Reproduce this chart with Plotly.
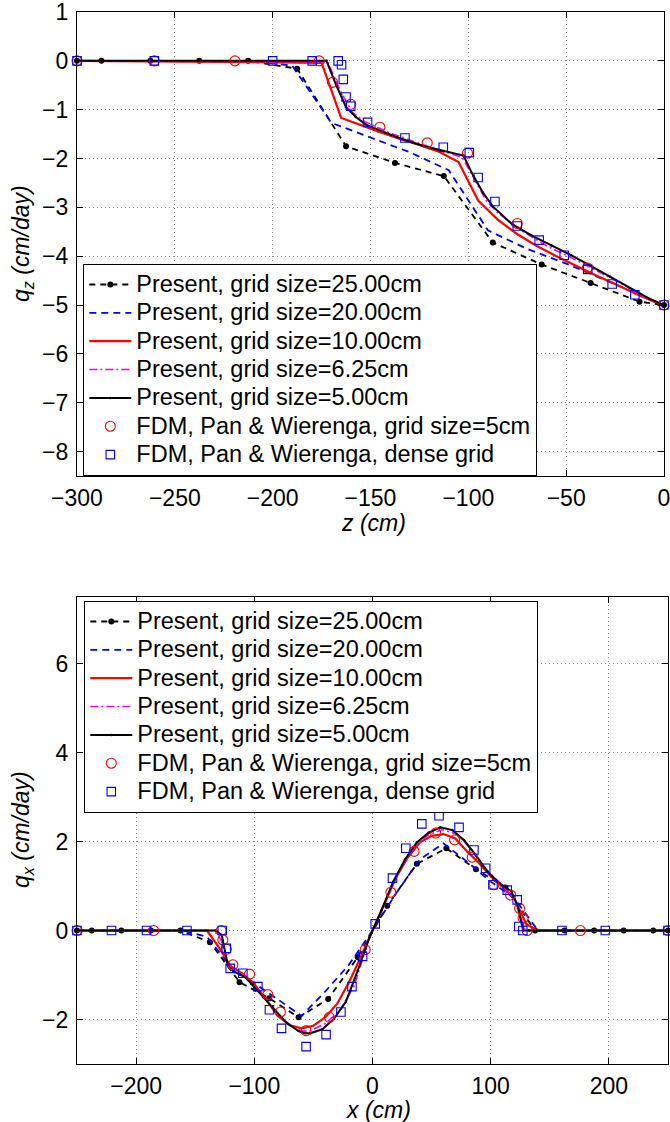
import plotly.graph_objects as go

# ---------------- TOP PANEL: q_z versus z ----------------
z_25 = [-300, -287.5, -262.5, -237.5, -212.5, -187.5, -162.5, -137.5, -112.5, -87.5, -62.5, -37.5, -12.5, 0]
qz_25 = [0, 0, 0, 0, 0, -0.16, -1.75, -2.09, -2.36, -3.72, -4.17, -4.55, -4.93, -5.0]

z_20 = [-300, -290, -270, -250, -230, -210, -190, -170, -150, -130, -110, -90, -70, -50, -30, -10, 0]
qz_20 = [0, 0, 0, 0, 0, 0, -0.1, -1.27, -1.57, -1.87, -2.24, -3.47, -3.85, -4.15, -4.49, -4.82, -5.0]

z_10 = [-300, -175, -165, -155, -145, -135, -125, -115, -105, -95, -85, -75, -65, -55, -45, -35, -25, -15, -5, 0]
qz_10 = [0, -0.04, -1.17, -1.32, -1.46, -1.6, -1.72, -1.86, -2.07, -2.86, -3.25, -3.55, -3.79, -4.0, -4.2, -4.39, -4.57, -4.76, -4.93, -5.0]

z_625 = [-300, -171.9, -165.6, -159.4, -153.1, -140.6, -128.1, -115.6, -103.1, -96.9, -90.6, -84.4, -71.9, -59.4, -46.9, -34.4, -21.9, -9.4, 0]
qz_625 = [0, -0.02, -0.6, -1.05, -1.24, -1.47, -1.65, -1.82, -1.98, -2.42, -2.88, -3.13, -3.5, -3.8, -4.04, -4.3, -4.56, -4.84, -5.0]

z_5 = [-300, -172.5, -167.5, -162.5, -157.5, -152.5, -142.5, -132.5, -122.5, -112.5, -102.5, -97.5, -92.5, -87.5,
       -77.5, -67.5, -57.5, -47.5, -37.5, -27.5, -17.5, -7.5, 0]
qz_5 = [0, 0, -0.5, -0.95, -1.15, -1.3, -1.47, -1.62, -1.75, -1.85, -1.94, -2.35, -2.7, -2.98,
        -3.35, -3.58, -3.78, -3.98, -4.2, -4.42, -4.65, -4.87, -5.0]

z_fdm5 = [-300, -260.5, -219.3, -176.2, -169.4, -160.1, -145.2, -121, -100.4, -75, -39.1, 0]
qz_fdm5 = [0, 0, 0, 0, -0.44, -0.89, -1.36, -1.68, -1.89, -3.33, -4.24, -5.0]

z_dense = [-300, -260.5, -200, -179.8, -166.5, -164.8, -163.9, -162.5, -160.1, -151.5, -132.4, -112.8, -99.5, -95,
           -86.4, -75, -63.8, -51, -39, -26.5, -14.9, 0]
qz_dense = [0, 0, 0, 0, 0, -0.08, -0.38, -0.74, -0.93, -1.26, -1.58, -1.77, -1.88, -2.39,
            -2.88, -3.38, -3.67, -3.98, -4.27, -4.57, -4.79, -5.0]

# ---------------- BOTTOM PANEL: q_x versus x ----------------
x_25 = [-250, -237.5, -212.5, -187.5, -162.5, -137.5, -112.5, -87.5, -62.5, -37.5, -12.5, 12.5, 37.5, 62.5, 87.5,
        112.5, 137.5, 162.5, 187.5, 212.5, 237.5, 250]
qx_25 = [0, 0, 0, 0, 0, -0.26, -1.16, -1.52, -1.95, -1.54, -0.6, 0.56, 1.5, 1.85, 1.38,
         0.97, 0, 0, 0, 0, 0, 0]

x_20 = [-250, -240, -220, -200, -180, -160, -140, -120, -100, -80, -60, -40, -20, 0, 20, 40, 60, 80, 100, 120,
        140, 160, 180, 200, 220, 240, 250]
qx_20 = [0, 0, 0, 0, 0, 0, -0.14, -0.81, -1.18, -1.56, -1.92, -1.37, -0.77, 0, 0.84, 1.6, 1.96, 1.55, 1.1, 0.73,
         0, 0, 0, 0, 0, 0, 0]

x_10 = [-250, -140, -130, -120, -110, -100, -90, -80, -70, -60, -50, -40, -30, -20, -10, 0, 10, 20, 30, 40, 50,
        60, 70, 80, 90, 100, 110, 120, 130, 140, 250]
qx_10 = [0, 0, -0.38, -0.8, -0.97, -1.2, -1.56, -1.92, -2.13, -2.2, -2.14, -1.95, -1.65, -1.17, -0.6, 0, 0.62,
         1.2, 1.65, 1.98, 2.13, 2.17, 2.07, 1.78, 1.52, 1.22, 0.98, 0.72, 0.15, 0, 0]

x_625 = [-250, -134.4, -128.1, -121.9, -115.6, -109.4, -103.1, -90.6, -78.1, -65.6, -59.4, -53.1, -40.6, -28.1,
         -15.6, -3.1, 9.4, 21.9, 34.4, 46.9, 59.4, 71.9, 84.4, 96.9, 109.4, 121.9, 128.1, 134.4, 250]
qx_625 = [0, 0, -0.2, -0.8, -0.93, -1.0, -1.18, -1.53, -1.95, -2.2, -2.26, -2.26, -2.1, -1.82,
          -1.25, -0.2, 0.55, 1.3, 1.85, 2.15, 2.27, 2.16, 1.8, 1.35, 1.03, 0.66, 0.05, 0, 0]

x_5 = [-250, -132.5, -127.5, -122.5, -117.5, -112.5, -107.5, -102.5, -92.5, -82.5, -72.5, -62.5, -57.5, -52.5,
       -42.5, -32.5, -22.5, -12.5, -2.5, 7.5, 17.5, 27.5, 37.5, 47.5, 57.5, 67.5, 77.5, 87.5, 97.5, 107.5,
       117.5, 122.5, 127.5, 132.5, 250]
qx_5 = [0, 0, -0.1, -0.78, -0.92, -0.98, -1.05, -1.2, -1.5, -1.8, -2.08, -2.26, -2.31, -2.31,
        -2.22, -1.98, -1.6, -0.9, -0.15, 0.45, 1.1, 1.6, 1.98, 2.2, 2.32, 2.26, 2.03, 1.69, 1.32, 1.06,
        0.88, 0.58, 0, 0, 0]

x_fdm5 = [-250, -185.1, -128, -126.6, -123.7, -118.1, -104, -88.6, -77.9, -56.2, -36.5, -6.2, 15.5, 35.2, 53.5,
          69.5, 84.4, 102.7, 116.8, 124.4, 127.4, 130.8, 175.9, 250]
qx_fdm5 = [0, 0, 0, -0.21, -0.42, -0.77, -0.98, -1.44, -1.83, -2.25, -1.95, -0.43, 0.86, 1.78, 2.19,
           2.04, 1.65, 1.03, 0.8, 0.5, 0.28, 0, 0, 0]

x_dense = [-250, -220.8, -191.2, -157, -127.1, -123.7, -120.4, -109.7, -97, -87.2, -77, -56.2, -39.3, -26.7,
           -17.4, -8.4, 2.3, 16.9, 28.2, 41.7, 56.3, 73.2, 85.8, 95.7, 101.9, 114, 122.4, 123.8, 127.2, 160.3,
           197, 250]
qx_dense = [0, 0, 0, 0, 0, -0.4, -0.85, -0.96, -1.26, -1.78, -2.2, -2.61, -2.34, -1.83,
            -1.26, -0.58, 0.15, 1.18, 1.85, 2.4, 2.58, 2.32, 1.81, 1.4, 1.03, 0.91, 0.69, 0.09, 0, 0,
            0, 0]

names = ["Present, grid size=25.00cm", "Present, grid size=20.00cm", "Present, grid size=10.00cm",
         "Present, grid size=6.25cm", "Present, grid size=5.00cm",
         "FDM, Pan &amp; Wierenga, grid size=5cm", "FDM, Pan &amp; Wierenga, dense grid"]

FONT = "Liberation Sans, Arial, Helvetica, sans-serif"
W, H = 670, 1122


def lab(s):
    return '<span style="font-size:23.5px">' + s + '</span>'


def add_panel(fig, xs_list, ys_list, xa, ya, leg):
    styles = [
        dict(mode="lines+markers", line=dict(color="black", width=1.8, dash="6px,5px"),
             marker=dict(symbol="circle", size=6, color="black")),
        dict(mode="lines", line=dict(color="blue", width=1.8, dash="7px,5px")),
        dict(mode="lines", line=dict(color="red", width=2.2)),
        dict(mode="lines", line=dict(color="magenta", width=1.6, dash="8px,3px,2px,3px")),
        dict(mode="lines+markers", line=dict(color="black", width=2),
             marker=dict(symbol="circle", size=2.5, color="black")),
        dict(mode="markers", marker=dict(symbol="circle-open", size=10, color="red", line=dict(width=1.1))),
        dict(mode="markers", marker=dict(symbol="square-open", size=8.5, color="blue", line=dict(width=1.1))),
    ]
    for xs, ys, nm, st in zip(xs_list, ys_list, names, styles):
        fig.add_trace(go.Scatter(x=xs, y=ys, name=lab(nm), xaxis=xa, yaxis=ya, legend=leg,
                                 cliponaxis=False, **st))


fig = go.Figure()
add_panel(fig, [z_25, z_20, z_10, z_625, z_5, z_fdm5, z_dense],
          [qz_25, qz_20, qz_10, qz_625, qz_5, qz_fdm5, qz_dense], "x", "y", "legend")
add_panel(fig, [x_25, x_20, x_10, x_625, x_5, x_fdm5, x_dense],
          [qx_25, qx_20, qx_10, qx_625, qx_5, qx_fdm5, qx_dense], "x2", "y2", "legend2")

axis_common = dict(showline=True, linecolor="black", linewidth=1.3, mirror="ticks", ticks="inside",
                   ticklen=6, tickwidth=1.2, tickcolor="black", showgrid=True, gridcolor="#8a8a8a",
                   gridwidth=1, griddash="1px,3px", zeroline=False, automargin=False,
                   ticklabeloverflow="allow",
                   tickfont=dict(family=FONT, size=23, color="black"))

legend_common = dict(bgcolor="white", bordercolor="black", borderwidth=1.3, itemwidth=42,
                     font=dict(family=FONT, size=19.5, color="black"), xanchor="left", yanchor="top",
                     tracegroupgap=0, itemclick=False)

fig.update_layout(
    width=W, height=H, margin=dict(l=0, r=0, t=0, b=0),
    paper_bgcolor="white", plot_bgcolor="white",
    font=dict(family=FONT, size=23, color="black"),
    xaxis=dict(domain=[77 / W, 664 / W], range=[-300, 0], tick0=-300, dtick=50, anchor="y",
               ticklabelstandoff=1, **axis_common),
    yaxis=dict(domain=[1 - 476 / H, 1 - 12 / H], range=[-8.5, 1], tick0=0, dtick=1, anchor="x",
               ticklabelstandoff=3, **axis_common),
    xaxis2=dict(domain=[77 / W, 668 / W], range=[-250, 250], tick0=0, dtick=100, anchor="y2",
                ticklabelstandoff=1, **axis_common),
    yaxis2=dict(domain=[1 - 1064 / H, 1 - 597 / H], range=[-3, 7.5], tick0=0, dtick=2, anchor="x2",
                ticklabelstandoff=3, **axis_common),
    legend=dict(x=83 / W, y=1 - 264 / H, **legend_common),
    legend2=dict(x=84 / W, y=1 - 601 / H, **legend_common),
    showlegend=True,
)

title_font = dict(family=FONT, size=23, color="black")
fig.add_annotation(text="<i>q<sub>z</sub> (cm/day)</i>", textangle=-90, xref="paper", yref="paper",
                   x=22 / W, y=1 - 244 / H, xanchor="center", yanchor="middle", showarrow=False, font=title_font)
fig.add_annotation(text="<i>q<sub>x</sub> (cm/day)</i>", textangle=-90, xref="paper", yref="paper",
                   x=22 / W, y=1 - 830 / H, xanchor="center", yanchor="middle", showarrow=False, font=title_font)
fig.add_annotation(text="<i>z (cm)</i>", xref="paper", yref="paper", x=373 / W, y=1 - 523 / H,
                   xanchor="center", yanchor="middle", showarrow=False, font=title_font)
fig.add_annotation(text="<i>x (cm)</i>", xref="paper", yref="paper", x=378 / W, y=1 - 1110 / H,
                   xanchor="center", yanchor="middle", showarrow=False, font=title_font)

fig.write_html("out.html", config={"displayModeBar": False},
               post_script="document.body.style.margin='0';document.body.style.overflow='hidden';")
